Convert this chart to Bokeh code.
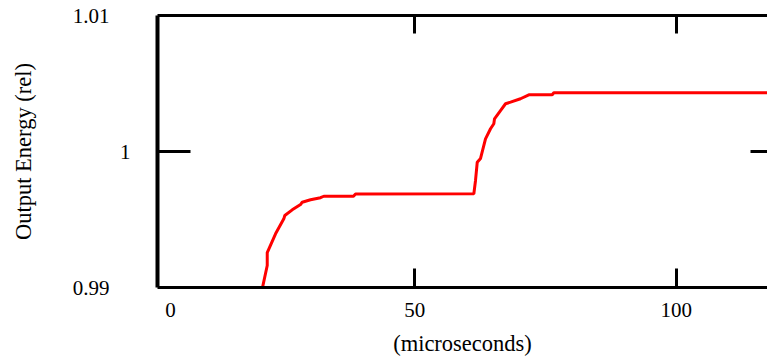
from bokeh.plotting import figure
from bokeh.models import LinearAxis, FixedTicker, Range1d
from bokeh.embed import file_html
from bokeh.resources import INLINE

# data
time_us = [20.81, 21.77, 21.77, 23.36, 24.94, 25.13, 26.55, 28.14, 28.46, 30.05,
           31.96, 32.59, 38.27, 38.66, 61.29, 61.61, 61.94, 62.57, 63.52, 64.48,
           65.11, 65.24, 66.39, 67.35, 68.31, 70.22, 71.81, 76.28, 76.59, 120.0]
energy = [0.98990, 0.99162, 0.99257, 0.99395, 0.99505, 0.99529, 0.99571, 0.99610, 0.99627, 0.99645,
          0.99660, 0.99671, 0.99671, 0.99688, 0.99689, 0.99787, 0.99921, 0.99949, 1.00093, 1.00167,
          1.00204, 1.00240, 1.00301, 1.00351, 1.00363, 1.00388, 1.00417, 1.00417, 1.00432, 1.00432]
x_ticks = [50, 100]
x_label_ticks = [3.27, 50, 100]
x_label_text = {3.27: "0"}
y_mid_ticks = [1.0]
y_end_ticks = [0.99, 1.01]

FONT = "Liberation Serif"

p = figure(width=767, height=359, x_range=Range1d(0.78, 117.46), y_range=Range1d(0.99, 1.01),
           output_backend="svg", toolbar_location=None,
           x_axis_location=None, y_axis_location=None,
           min_border_left=157, min_border_right=0, min_border_top=15, min_border_bottom=72)
p.outline_line_color = None
p.background_fill_color = "white"
p.border_fill_color = "white"

def style(ax, font_size="21px"):
    ax.major_label_text_font = FONT
    ax.major_label_text_font_size = font_size
    ax.major_label_text_color = "black"
    ax.axis_label_text_font = FONT
    ax.axis_label_text_font_size = "22.5px"
    ax.axis_label_text_font_style = "normal"
    ax.axis_label_text_color = "black"
    ax.minor_tick_line_color = None
    ax.major_tick_out = 0
    ax.axis_line_color = "black"
    ax.major_tick_line_color = "black"
    ax.major_tick_line_width = 3

# left axis carrying the "1" tick
ax_l1 = LinearAxis(ticker=FixedTicker(ticks=y_mid_ticks))
style(ax_l1)
ax_l1.axis_line_width = 4
ax_l1.major_tick_in = 33
ax_l1.major_label_standoff = 27
p.add_layout(ax_l1, "left")

# outer left axis carrying end labels and title
ax_l2 = LinearAxis(ticker=FixedTicker(ticks=y_end_ticks), axis_label="Output Energy (rel)")
style(ax_l2)
ax_l2.axis_line_color = None
ax_l2.major_tick_line_color = None
ax_l2.major_tick_in = 0
ax_l2.major_label_standoff = 7
ax_l2.axis_label_standoff = 34
p.add_layout(ax_l2, "left")

# bottom axis: line and tick marks only
ax_b1 = LinearAxis(ticker=FixedTicker(ticks=x_ticks), major_label_overrides={50: "", 100: ""})
style(ax_b1, "1px")
ax_b1.axis_line_width = 3
ax_b1.major_tick_in = 19
ax_b1.major_label_standoff = 0
p.add_layout(ax_b1, "below")

# bottom axis: labels and title
ax_b2 = LinearAxis(ticker=FixedTicker(ticks=x_label_ticks), axis_label="(microseconds)",
                   major_label_overrides=x_label_text)
style(ax_b2)
ax_b2.axis_line_color = None
ax_b2.major_tick_line_color = None
ax_b2.major_tick_in = 0
ax_b2.major_label_standoff = 15
ax_b2.axis_label_standoff = 11
p.add_layout(ax_b2, "below")

# top axis (ticks only)
ax_t = LinearAxis(ticker=FixedTicker(ticks=x_ticks), major_label_overrides={50: "", 100: ""})
style(ax_t, "1px")
ax_t.axis_line_width = 3
ax_t.major_tick_in = 18
ax_t.major_label_standoff = 0
p.add_layout(ax_t, "above")

# right axis (tick only)
ax_r = LinearAxis(ticker=FixedTicker(ticks=y_mid_ticks), major_label_overrides={1: ""})
style(ax_r, "1px")
ax_r.axis_line_color = None
ax_r.major_tick_in = 17
ax_r.major_label_standoff = 0
p.add_layout(ax_r, "right")

p.xgrid.visible = False
p.ygrid.visible = False

p.line(time_us, energy, line_color="#ff0000", line_width=3)

open("out.html", "w").write(file_html(p, INLINE))
